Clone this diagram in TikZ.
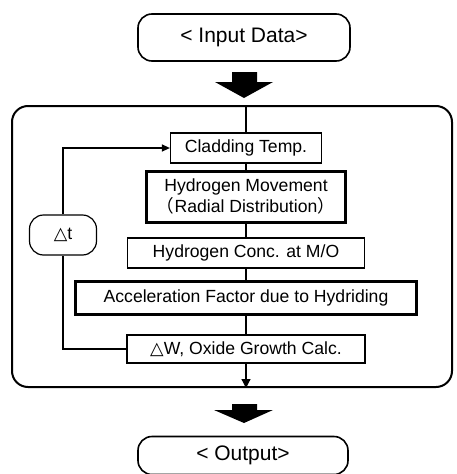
\documentclass[tikz,border=0pt]{standalone}
\usepackage{fontspec}
\setmainfont{Liberation Sans}
\newfontfamily\cjk{Noto Sans CJK JP}
\newfontfamily\dejavu{DejaVu Sans}
\usetikzlibrary{arrows.meta}
\begin{document}
\begin{tikzpicture}[x=1pt,y=-1pt,
  font=\fontsize{17.6}{21}\selectfont,
  box/.style={draw, line width=1.2pt, inner sep=0pt, align=center},
  thickbox/.style={box, line width=3pt},
  roundbox/.style={box, line width=1.6pt, rounded corners=14pt, font=\fontsize{21}{24}\selectfont},
  ln/.style={line width=1.2pt},
  bigarrow/.style={fill=black, draw=none}]
\useasboundingbox (0,0) rectangle (456,474);
% outer frame
\node[draw, line width=2pt, rounded corners=16pt, minimum width=440pt, minimum height=281pt, inner sep=0pt] (frame) at (232,246.5) {};
% top / bottom terminals
\node[roundbox, minimum width=212pt, minimum height=47pt] (in) at (244,37.5) {< Input Data>};
\node[roundbox, minimum width=210pt, minimum height=38pt] (out) at (243,455.5) {< Output>};
% big arrows
\fill[bigarrow] (232,72) -- (257,72) -- (257,82) -- (273,82) -- (244,98) -- (215,82) -- (232,82) -- cycle;
\fill[bigarrow] (232,404) -- (257,404) -- (257,410) -- (273,410) -- (244,423) -- (214,410) -- (232,410) -- cycle;
% process boxes
\node[box, minimum width=151pt, minimum height=30pt] (clad) at (246,148) {Cladding Temp.};
\node[thickbox, minimum width=199pt, minimum height=51pt] (hm) at (246,196.5) {Hydrogen Movement\\{\cjk （}Radial Distribution{\cjk ）}};
\node[box, minimum width=237pt, minimum height=30pt] (hc) at (246,253) {Hydrogen Conc. at M/O};
\node[thickbox, minimum width=341pt, minimum height=33pt] (acc) at (246,297.5) {Acceleration Factor due to Hydriding};
\node[box, minimum width=238pt, minimum height=28pt] (dw) at (246,349) {{\dejavu △}W, Oxide Growth Calc.};
\node[box, rounded corners=14pt, minimum width=67pt, minimum height=40pt] (dt) at (63,235) {{\dejavu △}t};
% main flow line
\draw[ln] (clad.north |- frame.north) -- (clad.north);
\draw[ln] (clad.south) -- (hm.north);
\draw[ln] (hm.south) -- (hc.north);
\draw[ln] (hc.south) -- (acc.north);
\draw[ln] (acc.south) -- (dw.north);
\draw[ln, -{Triangle[length=9pt,width=9pt]}] (dw.south) -- (dw.south |- frame.south);
% loop
\draw[ln] (dw.west) -| (dt.south);
\draw[ln, -{Triangle[length=8pt,width=7pt]}] (dt.north) |- (clad.west);
\end{tikzpicture}
\end{document}
